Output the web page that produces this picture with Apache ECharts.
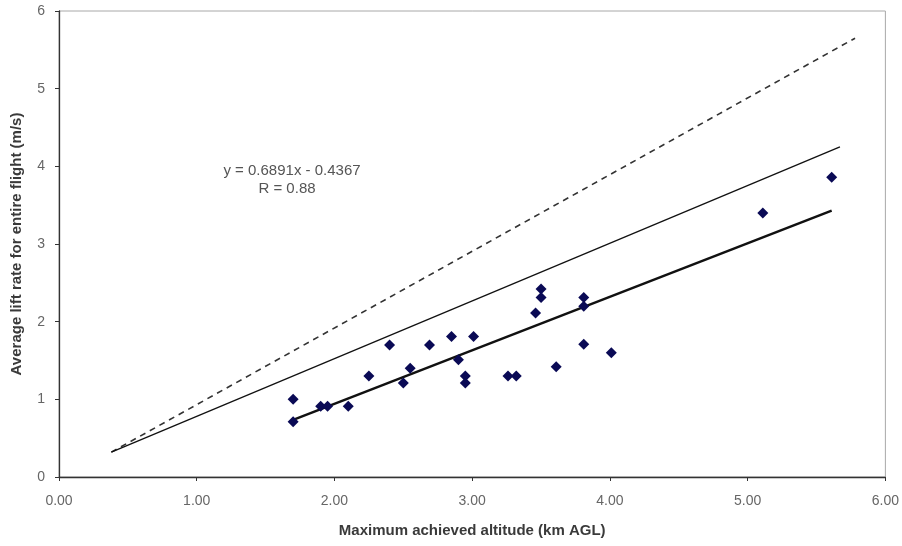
<!DOCTYPE html>
<html>
<head>
<meta charset="utf-8">
<script src="https://cdn.jsdelivr.net/npm/echarts@6/dist/echarts.min.js"></script>
<style>
  html, body { margin: 0; padding: 0; background: #fff; }
  #chart { width: 902px; height: 546px; }
</style>
</head>
<body>
<div id="chart"></div>
<script>
  // observed flights: max altitude (km AGL), average lift rate (m/s)
  var altitude = [1.70, 1.70, 1.90, 1.95, 2.10, 2.25, 2.40, 2.50, 2.55, 2.69, 2.85, 2.90, 2.95, 2.95, 3.01,
    3.26, 3.32, 3.46, 3.50, 3.50, 3.61, 3.81, 3.81, 3.81, 4.01, 5.11, 5.61]
  var liftRate = [1.00, 0.71, 0.91, 0.91, 0.91, 1.30, 1.70, 1.21, 1.40, 1.70, 1.81, 1.51, 1.30, 1.21, 1.81,
    1.30, 1.30, 2.11, 2.42, 2.31, 1.42, 2.31, 2.20, 1.71, 1.60, 3.40, 3.86]

  // linear fit y = 0.6891x - 0.4367 drawn over the data range
  var fitX = [1.70, 5.61]
  var slope = 0.6891
  var intercept = -0.4367

  // reference lines (end points)
  var thinLineX = [0.38, 5.67]
  var thinLineY = [0.32, 4.25]
  var dashLineX = [0.38, 5.78]
  var dashLineY = [0.32, 5.65]

  var xTicks = [0, 1, 2, 3, 4, 5, 6]
  var yTicks = [0, 1, 2, 3, 4, 5, 6]

  function pairs(xs, ys) {
    return xs.map(function (x, i) { return [x, ys[i]] })
  }

  var chart = echarts.init(document.getElementById('chart'))
  var font = 'Liberation Sans, Arial, sans-serif'

  var option = {
    animation: false,
    textStyle: { fontFamily: font },
    grid: {
      left: 59,
      right: 15,
      top: 11,
      bottom: 69,
      show: true,
      borderColor: '#a8a8a8',
      borderWidth: 1
    },
    xAxis: {
      type: 'value',
      min: xTicks[0],
      max: xTicks[xTicks.length - 1],
      interval: 1,
      name: 'Maximum achieved altitude (km AGL)',
      nameLocation: 'middle',
      nameGap: 46,
      nameTextStyle: { fontSize: 15, fontWeight: 'bold', color: '#3a3a3a', fontFamily: font },
      axisLine: { lineStyle: { color: '#333', width: 1.3 } },
      axisTick: { show: true, length: 4, lineStyle: { color: '#333' } },
      axisLabel: {
        color: '#666',
        fontSize: 14,
        fontFamily: font,
        margin: 17,
        formatter: function (v) { return v.toFixed(2) }
      },
      splitLine: { show: false }
    },
    yAxis: {
      type: 'value',
      min: yTicks[0],
      max: yTicks[yTicks.length - 1],
      interval: 1,
      name: 'Average lift rate for entire flight (m/s)',
      nameLocation: 'middle',
      nameGap: 35,
      nameTextStyle: { fontSize: 15, fontWeight: 'bold', color: '#3a3a3a', fontFamily: font },
      axisLine: { show: true, lineStyle: { color: '#333', width: 1.3 } },
      axisTick: { show: true, length: 4, lineStyle: { color: '#333' } },
      axisLabel: { color: '#666', fontSize: 14, fontFamily: font, margin: 14 },
      splitLine: { show: false }
    },
    series: [
      {
        type: 'line',
        data: pairs(dashLineX, dashLineY),
        symbol: 'none',
        lineStyle: { color: '#333', width: 1.6, type: [6, 5] },
        z: 2
      },
      {
        type: 'line',
        data: pairs(thinLineX, thinLineY),
        symbol: 'none',
        lineStyle: { color: '#111', width: 1.3 },
        z: 2
      },
      {
        type: 'line',
        data: fitX.map(function (x) { return [x, slope * x + intercept] }),
        symbol: 'none',
        lineStyle: { color: '#111', width: 2.5 },
        z: 3
      },
      {
        type: 'scatter',
        data: pairs(altitude, liftRate),
        symbol: 'diamond',
        symbolSize: 11,
        itemStyle: { color: '#0a0a55', opacity: 1 },
        z: 4
      }
    ],
    graphic: [
      {
        type: 'text',
        x: 292,
        y: 171,
        style: {
          text: 'y = 0.6891x - 0.4367',
          fill: '#555',
          font: '15px Liberation Sans',
          align: 'center',
          verticalAlign: 'middle'
        }
      },
      {
        type: 'text',
        x: 287,
        y: 189,
        style: {
          text: 'R = 0.88',
          fill: '#555',
          font: '15px Liberation Sans',
          align: 'center',
          verticalAlign: 'middle'
        }
      }
    ]
  }

  chart.setOption(option)
</script>
</body>
</html>
